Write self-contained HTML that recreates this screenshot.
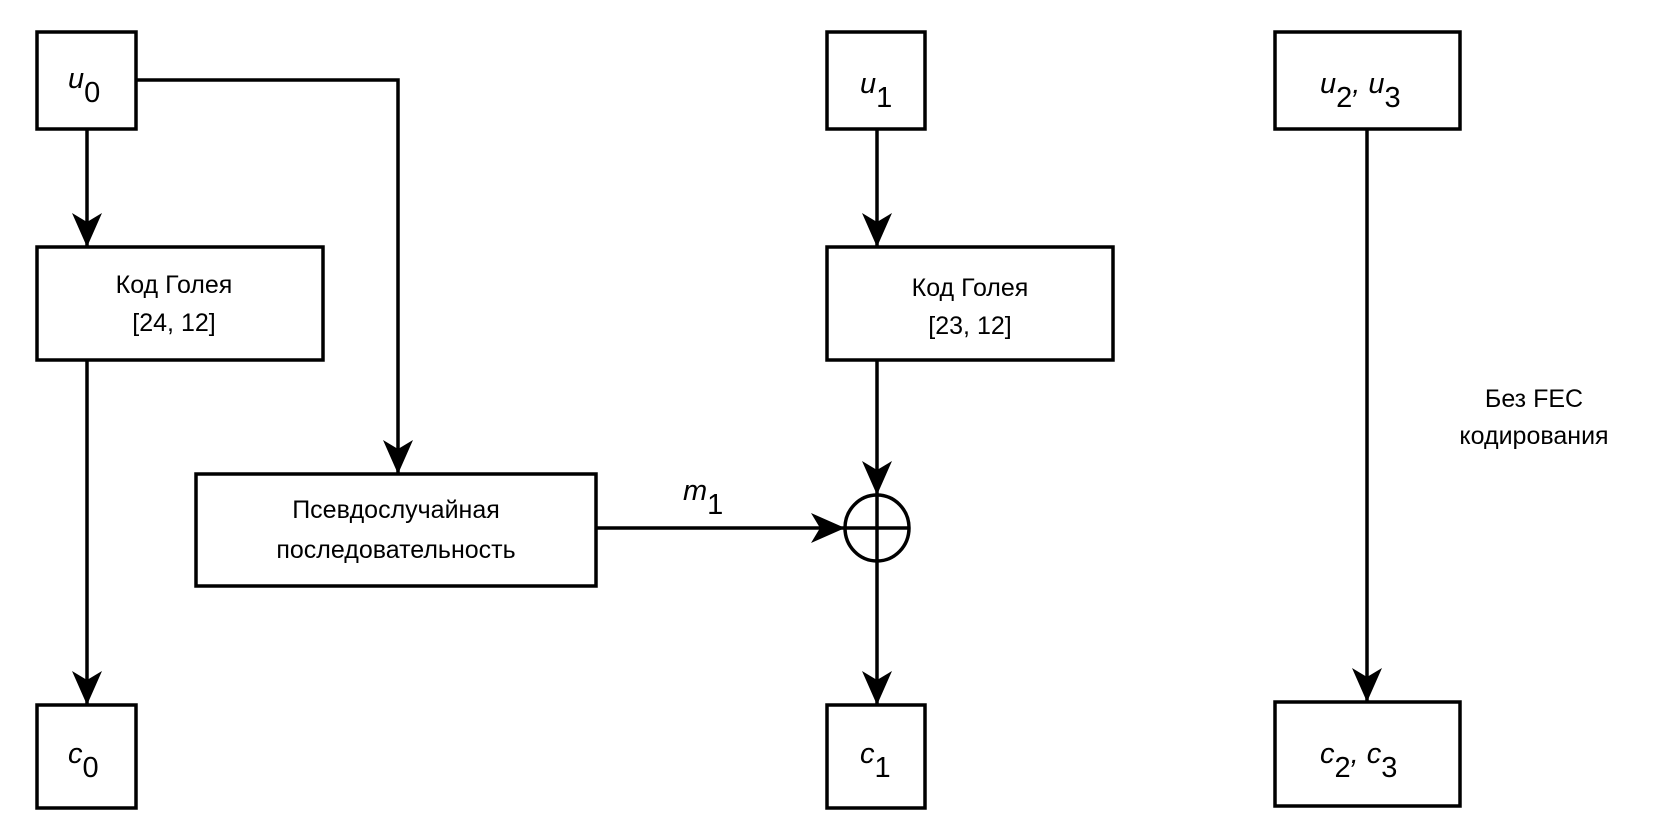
<!DOCTYPE html>
<html><head><meta charset="utf-8"><style>
body{margin:0;background:#fff}
svg{display:block}
text{font-family:"Liberation Sans",sans-serif;fill:#000}
</style></head><body>
<svg width="1654" height="832" viewBox="0 0 1654 832" xmlns="http://www.w3.org/2000/svg">
<defs>
<marker id="a" markerWidth="36" markerHeight="30" refX="34" refY="15" orient="auto" markerUnits="userSpaceOnUse">
<path d="M0,0 L34,15 L0,30 L9,15 Z" fill="#000"/>
</marker>
</defs>
<g fill="none" stroke="#000" stroke-width="3.5">
<rect x="37" y="32" width="99" height="97"/>
<rect x="37" y="247" width="286" height="113"/>
<rect x="37" y="705" width="99" height="103"/>
<rect x="196" y="474" width="400" height="112"/>
<rect x="827" y="32" width="98" height="97"/>
<rect x="827" y="247" width="286" height="113"/>
<rect x="827" y="705" width="98" height="103"/>
<rect x="1275" y="32" width="185" height="97"/>
<rect x="1275" y="702" width="185" height="104"/>
<ellipse cx="877" cy="528" rx="32" ry="33"/>
<line x1="845" y1="528" x2="909" y2="528"/>
<line x1="877" y1="495" x2="877" y2="561"/>
<path d="M87,129 V247" marker-end="url(#a)"/>
<path d="M87,360 V705" marker-end="url(#a)"/>
<path d="M136,80 H398 V474" marker-end="url(#a)"/>
<path d="M877,129 V247" marker-end="url(#a)"/>
<path d="M877,360 V495" marker-end="url(#a)"/>
<path d="M877,561 V705" marker-end="url(#a)"/>
<path d="M596,528 H845" marker-end="url(#a)"/>
<path d="M1367,129 V702" marker-end="url(#a)"/>
</g>
<g font-size="29" font-style="italic">
<text x="68" y="88">u<tspan font-style="normal" dy="14">0</tspan></text>
<text x="860" y="93">u<tspan font-style="normal" dy="14">1</tspan></text>
<text x="1320" y="93">u<tspan font-style="normal" dy="14">2</tspan><tspan dy="-14">, u</tspan><tspan font-style="normal" dy="14">3</tspan></text>
<text x="68" y="763">c<tspan font-style="normal" dy="14">0</tspan></text>
<text x="860" y="763">c<tspan font-style="normal" dy="14">1</tspan></text>
<text x="1320" y="763">c<tspan font-style="normal" dy="14">2</tspan><tspan dy="-14">, c</tspan><tspan font-style="normal" dy="14">3</tspan></text>
<text x="683" y="500">m<tspan font-style="normal" dy="14">1</tspan></text>
</g>
<g font-size="25" text-anchor="middle">
<text x="174" y="293">Код Голея</text>
<text x="174" y="331">[24, 12]</text>
<text x="970" y="296">Код Голея</text>
<text x="970" y="334">[23, 12]</text>
<text x="396" y="518">Псевдослучайная</text>
<text x="396" y="558">последовательность</text>
<text x="1534" y="407">Без FEC</text>
<text x="1534" y="444">кодирования</text>
</g>
</svg>
</body></html>
